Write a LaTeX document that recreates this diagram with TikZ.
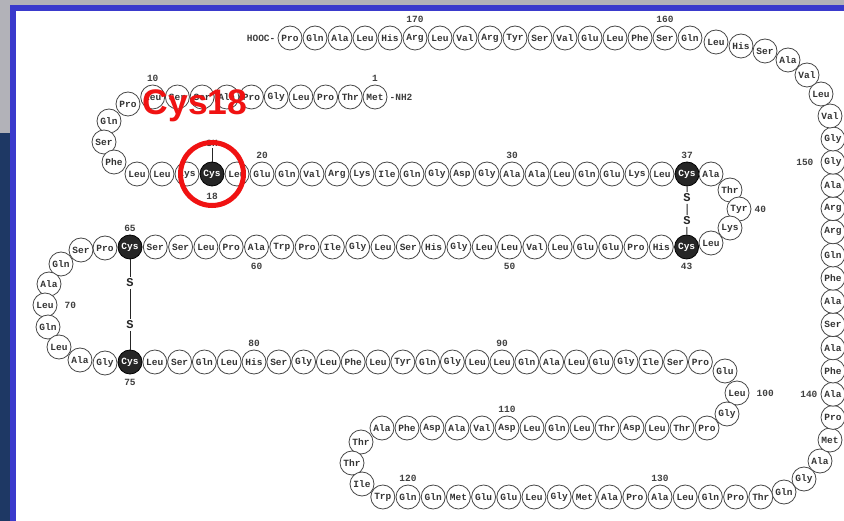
\documentclass[tikz,border=0pt]{standalone}
\usepackage{fontspec}
\setmainfont{Liberation Serif}
\setmonofont{Liberation Mono}
\newfontfamily\tagfont{Liberation Sans}
\usetikzlibrary{positioning}

\definecolor{framegray}{RGB}{178,178,184}
\definecolor{framenavy}{RGB}{30,56,100}
\definecolor{frameblue}{RGB}{58,58,204}
\definecolor{ringred}{RGB}{240,18,18}
\definecolor{inkgray}{RGB}{72,72,72}

\begin{document}
\begin{tikzpicture}[x=1pt, y=-1pt, node distance=2pt]
\tikzset{
	    myres/.style={circle, draw=inkgray, line width=0.8pt, fill=white, minimum size=24pt, inner sep=0pt, text=black!80, font=\ttfamily\bfseries\fontsize{9.5}{9.5}\selectfont},
	    mycys/.style={myres, draw=black, fill=black!85, text=white},
	    mynum/.style={inner sep=1pt, text=black!75, font=\ttfamily\bfseries\fontsize{9.5}{9.5}\selectfont},
	    mysulf/.style={inner sep=1.5pt, text=black!85, font=\ttfamily\bfseries\fontsize{12}{12}\selectfont},
	    mybond/.style={draw=black!85, line width=1pt},
	    myring/.style={draw=ringred, line width=5pt}
	}
	% slide frame
	\clip (0,0) rectangle (844,521);
	\fill[framegray] (0,0) rectangle (844,521);
	\fill[framenavy] (0,133) rectangle (10,521);
	\fill[frameblue] (10,5) rectangle (844,11);
	\fill[frameblue] (10,5) rectangle (16,521);
	\fill[white] (16,11) rectangle (844,521);

	% N-terminal strand
	\foreach \n/\aa in {1/Met,2/Thr,3/Pro,4/Leu,5/Gly,6/Pro,7/Ala,8/Ser,9/Ser,10/Leu}
	    \node[myres] (aa\n) at ({375-24.7*(\n-1)},97) {\aa};
	\node[myres] (aa11) at (128,104) {Pro};
	\node[myres] (aa12) at (109,121) {Gln};
	\node[myres] (aa13) at (104,142) {Ser};
	\node[myres] (aa14) at (114,162) {Phe};
	\foreach \n/\aa in {15/Leu,16/Leu,17/Lys,19/Leu,20/Glu,21/Gln,22/Val,23/Arg,24/Lys,25/Ile,26/Gln,27/Gly,28/Asp,29/Gly,30/Ala,31/Ala,32/Leu,33/Gln,34/Glu,35/Lys,36/Leu}
	    \node[myres] (aa\n) at ({212+25*(\n-18)},174) {\aa};
	\node[mycys] (aa18) at (212,174) {Cys};
	\node[mycys] (aa37) at (687,174) {Cys};

	% loop 38-42
	\node[myres] (aa38) at (711,174) {Ala};
	\node[myres] (aa39) at (730,190) {Thr};
	\node[myres] (aa40) at (739,209) {Tyr};
	\node[myres] (aa41) at (730,228) {Lys};
	\node[myres] (aa42) at (711,243) {Leu};
	\node[mycys] (aa43) at (686.6,247) {Cys};
	\foreach \n/\aa in {44/His,45/Pro,46/Glu,47/Glu,48/Leu,49/Val,50/Leu,51/Leu,52/Gly,53/His,54/Ser,55/Leu,56/Gly,57/Ile,58/Pro,59/Trp,60/Ala,61/Pro,62/Leu,63/Ser,64/Ser}
	    \node[myres] (aa\n) at ({130+25.3*(65-\n)},247) {\aa};
	\node[mycys] (aa65) at (130,247) {Cys};

	% loop 66-74
	\node[myres] (aa66) at (105,248) {Pro};
	\node[myres] (aa67) at (81,250) {Ser};
	\node[myres] (aa68) at (61,264) {Gln};
	\node[myres] (aa69) at (49,284) {Ala};
	\node[myres] (aa70) at (45,305) {Leu};
	\node[myres] (aa71) at (48,327) {Gln};
	\node[myres] (aa72) at (59,347) {Leu};
	\node[myres] (aa73) at (80,360) {Ala};
	\node[myres] (aa74) at (105,363) {Gly};
	\node[mycys] (aa75) at (130,362) {Cys};
	\foreach \n/\aa in {76/Leu,77/Ser,78/Gln,79/Leu,80/His,81/Ser,82/Gly,83/Leu,84/Phe,85/Leu,86/Tyr,87/Gln,88/Gly,89/Leu,90/Leu,91/Gln,92/Ala,93/Leu,94/Glu,95/Gly,96/Ile,97/Ser,98/Pro}
	    \node[myres] (aa\n) at ({130+24.8*(\n-75)},362) {\aa};

	% turn 99-101
	\node[myres] (aa99) at (725,371) {Glu};
	\node[myres] (aa100) at (737,393) {Leu};
	\node[myres] (aa101) at (727,414) {Gly};
	\foreach \n/\aa in {102/Pro,103/Thr,104/Leu,105/Asp,106/Thr,107/Leu,108/Gln,109/Leu,110/Asp,111/Val,112/Ala,113/Asp,114/Phe,115/Ala}
	    \node[myres] (aa\n) at ({507-25*(\n-110)},428) {\aa};

	% turn 116-118
	\node[myres] (aa116) at (361,442) {Thr};
	\node[myres] (aa117) at (352,463) {Thr};
	\node[myres] (aa118) at (362,484) {Ile};
	\foreach \n/\aa in {119/Trp,120/Gln,121/Gln,122/Met,123/Glu,124/Glu,125/Leu,126/Gly,127/Met,128/Ala,129/Pro,130/Ala,131/Leu,132/Gln,133/Pro,134/Thr}
	    \node[myres] (aa\n) at ({408+25.2*(\n-120)},497) {\aa};

	% right hand column
	\node[myres] (aa135) at (784,492) {Gln};
	\node[myres] (aa136) at (804,479) {Gly};
	\node[myres] (aa137) at (820,461) {Ala};
	\node[myres] (aa138) at (830,440) {Met};
	\foreach \n/\aa in {139/Pro,140/Ala,141/Phe,142/Ala,143/Ser,144/Ala,145/Phe,146/Gln,147/Arg,148/Arg,149/Ala,150/Gly,151/Gly}
	    \node[myres] (aa\n) at (833,{139+23.2*(151-\n)}) {\aa};
	\node[myres] (aa152) at (830,116) {Val};
	\node[myres] (aa153) at (821,94) {Leu};
	\node[myres] (aa154) at (807,75) {Val};
	\node[myres] (aa155) at (788,60) {Ala};
	\node[myres] (aa156) at (765,51) {Ser};
	\node[myres] (aa157) at (741,46) {His};
	\node[myres] (aa158) at (716,42) {Leu};

	% C-terminal strand
	\foreach \n/\aa in {159/Gln,160/Ser,161/Phe,162/Leu,163/Glu,164/Val,165/Ser,166/Tyr,167/Arg,168/Val,169/Leu,170/Arg,171/His,172/Leu,173/Ala,174/Gln,175/Pro}
	    \node[myres] (aa\n) at ({290+25*(175-\n)},38) {\aa};

	% ends
	\node[mynum, left=1pt of aa175] (cterm) {HOOC-};
	\node[mynum, right=1pt of aa1] (nterm) {-NH2};

	% numbering
	\node[mynum, above=of aa1] (n1) {1};
	\node[mynum, above=of aa10] (n10) {10};
	\node[mynum, below=6pt of aa18] (n18) {18};
	\node[mynum, above=of aa20] (n20) {20};
	\node[mynum, above=of aa30] (n30) {30};
	\node[mynum, above=of aa37] (n37) {37};
	\node[mynum, right=of aa40] (n40) {40};
	\node[mynum, below=3pt of aa43] (n43) {43};
	\node[mynum, below=3pt of aa50] (n50) {50};
	\node[mynum, below=3pt of aa60] (n60) {60};
	\node[mynum, above=of aa65] (n65) {65};
	\node[mynum, right=6pt of aa70] (n70) {70};
	\node[mynum, below=4pt of aa75] (n75) {75};
	\node[mynum, above=of aa80] (n80) {80};
	\node[mynum, above=of aa90] (n90) {90};
	\node[mynum, right=6pt of aa100] (n100) {100};
	\node[mynum, above=of aa110] (n110) {110};
	\node[mynum, above=of aa120] (n120) {120};
	\node[mynum, above=of aa130] (n130) {130};
	\node[mynum, left=of aa140] (n140) {140};
	\node[mynum, left=6pt of aa150] (n150) {150};
	\node[mynum, above=of aa160] (n160) {160};
	\node[mynum, above=of aa170] (n170) {170};

	% disulfide bridges and free thiol
	\node[mysulf] (s37) at (687,198) {S};
	\node[mysulf] (s43) at (687,221) {S};
	\draw[mybond] (aa37) -- (s37) -- (s43) -- (aa43);
	\node[mysulf] (s65) at (130,283) {S};
	\node[mysulf] (s75) at (130,325) {S};
	\draw[mybond] (aa65) -- (s65) -- (s75) -- (aa75);
	\node[mynum, above=14pt of aa18] (sh) {SH};
	\draw[mybond, line width=0.7pt] (aa18) -- (sh);

	% highlight
	\draw[myring] (aa18) circle[radius=31.5pt];
	\node[text=ringred, inner sep=0pt, font=\tagfont\bfseries\fontsize{35.5}{36}\selectfont] (tag) at (195,106) {Cys18};
\end{tikzpicture}
\end{document}
